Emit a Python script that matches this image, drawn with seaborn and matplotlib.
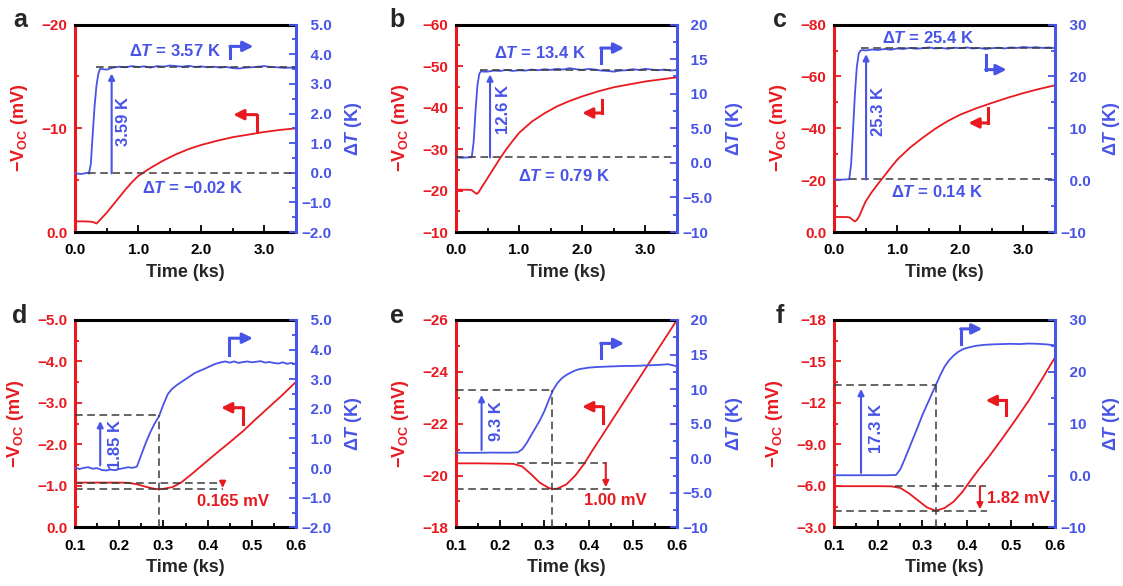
import matplotlib
matplotlib.use("Agg")
import matplotlib.pyplot as plt
from matplotlib.ticker import MultipleLocator, FuncFormatter
import seaborn as sns

RED = "#e8191f"
BLUE = "#4754e6"
DASH = "#3a3a3a"

# ---- panel a ----
a_t_v = [0.0, 0.1, 0.2, 0.28, 0.34, 0.4, 0.5, 0.6, 0.7, 0.8, 0.9, 1.0, 1.2, 1.4,
         1.6, 1.8, 2.0, 2.25, 2.5, 2.75, 3.0, 3.25, 3.5]
a_v = [-1.03, -1.03, -1.02, -0.98, -0.82, -1.2, -1.85, -2.6, -3.35, -4.1, -4.8, -5.4,
       -6.2, -6.9, -7.5, -8.0, -8.4, -8.8, -9.15, -9.4, -9.65, -9.85, -10.0]
a_t_dt = [0.0, 0.1, 0.2, 0.22, 0.25, 0.28, 0.31, 0.34, 0.37, 0.40, 0.43,
          0.5, 0.6, 0.7, 0.8, 0.9, 1.0, 1.1, 1.2, 1.3, 1.4, 1.5, 1.6, 1.7, 1.8, 1.9,
          2.0, 2.1, 2.2, 2.3, 2.4, 2.5, 2.6, 2.7, 2.8, 2.9, 3.0, 3.1, 3.2, 3.3, 3.4, 3.5]
a_dt = [-0.02, -0.04, 0.0, -0.03, 0.3, 1.3, 2.25, 2.95, 3.35, 3.52, 3.5,
        3.48, 3.55, 3.58, 3.56, 3.6, 3.57, 3.59, 3.55, 3.6, 3.58, 3.62, 3.6, 3.58, 3.61, 3.57,
        3.59, 3.56, 3.58, 3.55, 3.57, 3.53, 3.52, 3.55, 3.56, 3.58, 3.6, 3.57, 3.56, 3.54, 3.55, 3.53]

# ---- panel b ----
b_t_v = [0.0, 0.1, 0.2, 0.25, 0.3, 0.33, 0.36, 0.4, 0.5, 0.6, 0.7, 0.8, 0.9, 1.0,
         1.2, 1.4, 1.6, 1.8, 2.0, 2.25, 2.5, 2.75, 3.0, 3.25, 3.5]
b_v = [-20.2, -20.2, -20.2, -20.1, -19.5, -19.2, -19.6, -20.6, -23.0, -25.4, -27.8, -30.0,
       -32.0, -33.9, -36.6, -38.6, -40.3, -41.6, -42.7, -43.9, -44.9, -45.6, -46.3, -46.8, -47.3]
b_t_dt = [0.0, 0.1, 0.2, 0.25, 0.28, 0.31, 0.34, 0.37, 0.40, 0.43,
          0.5, 0.6, 0.7, 0.8, 0.9, 1.0, 1.1, 1.2, 1.3, 1.4, 1.5, 1.6, 1.7, 1.8, 1.9,
          2.0, 2.1, 2.2, 2.3, 2.4, 2.5, 2.6, 2.7, 2.8, 2.9, 3.0, 3.1, 3.2, 3.3, 3.4, 3.5]
b_dt = [0.79, 0.75, 0.8, 0.82, 3.0, 7.5, 11.2, 12.9, 13.3, 13.2,
        13.2, 13.35, 13.3, 13.45, 13.3, 13.4, 13.35, 13.5, 13.4, 13.55, 13.45, 13.6, 13.5, 13.7,
        13.55, 13.45, 13.6, 13.5, 13.35, 13.3, 13.2, 13.35, 13.4, 13.55, 13.45, 13.6, 13.5,
        13.4, 13.5, 13.35, 13.45]

# ---- panel c ----
c_t_v = [0.0, 0.1, 0.2, 0.25, 0.3, 0.33, 0.36, 0.4, 0.5, 0.6, 0.7, 0.8, 0.9, 1.0,
         1.2, 1.4, 1.6, 1.8, 2.0, 2.25, 2.5, 2.75, 3.0, 3.25, 3.5]
c_v = [-5.8, -5.8, -5.8, -5.6, -4.6, -4.1, -4.6, -6.2, -11.8, -15.5, -18.7, -21.8, -24.9,
       -27.9, -32.5, -36.3, -39.8, -42.8, -45.3, -47.7, -49.8, -51.8, -53.6, -55.2, -56.6]
c_t_dt = [0.0, 0.1, 0.2, 0.24, 0.27, 0.30, 0.33, 0.36, 0.39, 0.42, 0.46,
          0.5, 0.6, 0.7, 0.8, 0.9, 1.0, 1.1, 1.2, 1.3, 1.4, 1.5, 1.6, 1.7, 1.8, 1.9,
          2.0, 2.1, 2.2, 2.3, 2.4, 2.5, 2.6, 2.7, 2.8, 2.9, 3.0, 3.1, 3.2, 3.3, 3.4, 3.5]
c_dt = [0.14, 0.1, 0.16, 0.2, 3.0, 9.5, 16.5, 21.8, 24.4, 25.0, 25.1,
        25.0, 25.2, 25.1, 25.3, 25.15, 25.4, 25.3, 25.5, 25.35, 25.45, 25.6, 25.4, 25.5,
        25.35, 25.55, 25.45, 25.6, 25.4, 25.5, 25.3, 25.45, 25.55, 25.4, 25.6, 25.5, 25.7,
        25.55, 25.65, 25.5, 25.6, 25.45]

# ---- panel d ----
d_t_v = [0.10, 0.15, 0.20, 0.22, 0.24, 0.26, 0.28, 0.29, 0.30, 0.32, 0.34, 0.36, 0.38,
         0.40, 0.42, 0.45, 0.48, 0.51, 0.54, 0.57, 0.60]
d_v = [-1.08, -1.08, -1.08, -1.075, -1.04, -0.98, -0.93, -0.92, -0.93, -0.97, -1.08, -1.25,
       -1.43, -1.61, -1.79, -2.05, -2.32, -2.62, -2.91, -3.2, -3.51]
d_t_dt = [0.10, 0.11, 0.12, 0.13, 0.14, 0.15, 0.16, 0.17, 0.18, 0.19, 0.20, 0.21, 0.22,
          0.23, 0.24, 0.25, 0.26, 0.27, 0.28, 0.29, 0.30, 0.31, 0.32, 0.33, 0.34, 0.35,
          0.36, 0.37, 0.38, 0.39, 0.40, 0.41, 0.42, 0.43, 0.44, 0.45, 0.46, 0.47, 0.48,
          0.49, 0.50, 0.51, 0.52, 0.53, 0.54, 0.55, 0.56, 0.57, 0.58, 0.59, 0.60]
d_dt = [0.02, -0.03, 0.01, 0.03, -0.02, 0.0, -0.06, -0.08, -0.05, -0.07, -0.03, 0.0, 0.03,
        0.01, 0.05, 0.45, 0.85, 1.2, 1.5, 1.75, 2.15, 2.5, 2.68, 2.8, 2.9, 3.0, 3.1, 3.2,
        3.27, 3.33, 3.4, 3.47, 3.53, 3.57, 3.6, 3.56, 3.6, 3.55, 3.58, 3.6, 3.57, 3.59,
        3.61, 3.56, 3.58, 3.55, 3.53, 3.57, 3.52, 3.55, 3.5]

# ---- panel e ----
e_t_v = [0.10, 0.15, 0.20, 0.23, 0.25, 0.27, 0.29, 0.31, 0.32, 0.33, 0.35, 0.37, 0.39,
         0.41, 0.43, 0.45, 0.48, 0.51, 0.54, 0.57, 0.60]
e_v = [-20.47, -20.47, -20.46, -20.45, -20.35, -20.05, -19.72, -19.52, -19.48, -19.5,
       -19.66, -20.0, -20.45, -21.0, -21.52, -22.05, -22.84, -23.63, -24.42, -25.21, -26.0]
e_t_dt = [0.10, 0.14, 0.18, 0.22, 0.24, 0.25, 0.26, 0.27, 0.28, 0.29, 0.30, 0.31, 0.32,
          0.33, 0.34, 0.35, 0.36, 0.37, 0.38, 0.39, 0.40, 0.42, 0.44, 0.46, 0.48, 0.50,
          0.52, 0.54, 0.56, 0.58, 0.60]
e_dt = [0.8, 0.78, 0.82, 0.8, 0.85, 1.3, 2.2, 3.3, 4.4, 5.5, 6.8, 8.4, 9.9, 10.9, 11.6,
        12.05, 12.4, 12.7, 12.9, 13.0, 13.1, 13.2, 13.25, 13.3, 13.35, 13.35, 13.4, 13.45,
        13.5, 13.6, 13.3]

# ---- panel f ----
f_t_v = [0.10, 0.15, 0.20, 0.23, 0.25, 0.27, 0.29, 0.31, 0.33, 0.35, 0.37, 0.39, 0.41,
         0.43, 0.45, 0.48, 0.51, 0.54, 0.57, 0.60]
f_v = [-5.98, -5.98, -5.98, -5.97, -5.85, -5.45, -4.95, -4.45, -4.2, -4.4, -4.85, -5.55,
       -6.45, -7.3, -8.1, -9.4, -10.75, -12.15, -13.7, -15.3]
f_t_dt = [0.10, 0.14, 0.18, 0.22, 0.24, 0.25, 0.26, 0.27, 0.28, 0.29, 0.30, 0.31, 0.32,
          0.33, 0.34, 0.35, 0.36, 0.37, 0.38, 0.39, 0.40, 0.42, 0.44, 0.46, 0.48, 0.50,
          0.52, 0.54, 0.56, 0.58, 0.60]
f_dt = [0.06, 0.05, 0.07, 0.06, 0.1, 1.2, 3.2, 5.3, 7.4, 9.5, 11.7, 13.6, 15.5, 17.4, 19.3,
        21.0, 22.2, 23.1, 23.8, 24.3, 24.6, 25.0, 25.2, 25.3, 25.35, 25.4, 25.35, 25.45,
        25.4, 25.3, 25.1]

panel_letters = ["a", "b", "c", "d", "e", "f"]

sns.set_style("ticks")
plt.rcParams["font.family"] = ["Liberation Sans", "DejaVu Sans"]
plt.rcParams["font.weight"] = "bold"
plt.rcParams["axes.labelweight"] = "bold"
plt.rcParams["mathtext.fontset"] = "custom"
plt.rcParams["mathtext.rm"] = "Liberation Sans:bold"
plt.rcParams["mathtext.it"] = "Liberation Sans:italic:bold"
plt.rcParams["mathtext.bf"] = "Liberation Sans:bold"


def fmt(v, pos=None):
    if abs(v) < 1e-9:
        return "0.0"
    s = f"{abs(v):.0f}" if abs(v) >= 9.999 else f"{abs(v):.1f}"
    return ("\u2212" if v < 0 else "") + s


def fmt_right(v, pos=None):
    # digits line up on the left, the minus sign hangs out
    s = fmt(v)
    return s if s.startswith("\u2212") else "\u2007" + s


top = dict(xlim=(0, 3.5), xmaj=1.0, xmin=0.5)
bot = dict(xlim=(0.1, 0.6), xmaj=0.1, xmin=0.05)

panels = [
    dict(top, tv=a_t_v, v=a_v, tdt=a_t_dt, dt=a_dt, ylim=(0, -20), ymaj=10, ymin=5,
         y2lim=(-2, 5), y2maj=1, y2min=0.5,
         texts=[("Δ$T$ = 3.57 K", .452, .871, BLUE, 0), ("Δ$T$ = \u22120.02 K", .532, .212, BLUE, 0),
                ("3.59 K", .219, .534, BLUE, 90)],
         bent_b=(0.701, 0.839, 0.895, 0.807), bent_r=(0.822, 0.486, 0.566, 0.716),
         dt_h=[(3.57, 0.34, 3.5), (-0.02, 0.21, 3.5)], v_h=[], vline=None,
         arr_b=(0.58, -0.02, 3.35), arr_r=None),
    dict(top, tv=b_t_v, v=b_v, tdt=b_t_dt, dt=b_dt, ylim=(-10, -60), ymaj=10, ymin=5,
         y2lim=(-10, 20), y2maj=5, y2min=2.5,
         texts=[("Δ$T$ = 13.4 K", .379, .863, BLUE, 0), ("Δ$T$ = 0.79 K", .488, .268, BLUE, 0),
                ("12.6 K", .215, .590, BLUE, 90)],
         bent_b=(0.655, 0.815, 0.887, 0.761), bent_r=(0.662, 0.638, 0.574, 0.571),
         dt_h=[(13.4, 0.38, 3.5), (0.79, 0.0, 3.5)], v_h=[], vline=None,
         arr_b=(0.54, 0.79, 12.8), arr_r=None),
    dict(top, tv=c_t_v, v=c_v, tdt=c_t_dt, dt=c_dt, ylim=(0, -80), ymaj=20, ymin=10,
         y2lim=(-10, 30), y2maj=10, y2min=5,
         texts=[("Δ$T$ = 25.4 K", .427, .936, BLUE, 0), ("Δ$T$ = 0.14 K", .465, .191, BLUE, 0),
                ("25.3 K", .201, .582, BLUE, 90)],
         bent_b=(0.686, 0.855, 0.783, 0.781), bent_r=(0.698, 0.598, 0.526, 0.608),
         dt_h=[(25.4, 0.42, 3.5), (0.14, 0.24, 3.5)], v_h=[], vline=None,
         arr_b=(0.507, 0.14, 24.3), arr_r=None),
    dict(bot, tv=d_t_v, v=d_v, tdt=d_t_dt, dt=d_dt, ylim=(0, -5), ymaj=1, ymin=0.5,
         y2lim=(-2, 5), y2maj=1, y2min=0.5,
         texts=[("1.85 K", .182, .402, BLUE, 90), ("0.165 mV", .714, .123, RED, 0)],
         bent_b=(0.699, 0.833, 0.912, 0.805), bent_r=(0.760, 0.498, 0.577, 0.661),
         dt_h=[(1.8, 0.1, 0.29)], v_h=[(-1.08, 0.1, 0.435), (-0.92, 0.1, 0.435)],
         vline=(0.29, 1.8), arr_b=(0.157, 0.09, 1.59), arr_r=(0.434, -1.08, -0.95)),
    dict(bot, tv=e_t_v, v=e_v, tdt=e_t_dt, dt=e_dt, ylim=(-18, -26), ymaj=2, ymin=1,
         y2lim=(-10, 20), y2maj=5, y2min=2.5,
         texts=[("9.3 K", .185, .510, BLUE, 90), ("1.00 mV", .723, .129, RED, 0)],
         bent_b=(0.655, 0.815, 0.887, 0.761), bent_r=(0.665, 0.502, 0.582, 0.571),
         dt_h=[(9.8, 0.1, 0.317)], v_h=[(-20.47, 0.238, 0.442), (-19.47, 0.1, 0.45)],
         vline=(0.317, 9.8), arr_b=(0.158, 1.19, 9.15), arr_r=(0.439, -20.47, -19.55)),
    dict(bot, tv=f_t_v, v=f_v, tdt=f_t_dt, dt=f_dt, ylim=(-3, -18), ymaj=3, ymin=1.5,
         y2lim=(-10, 30), y2maj=10, y2min=5,
         texts=[("17.3 K", .194, .476, BLUE, 90), ("1.82 mV", .833, .139, RED, 0)],
         bent_b=(0.573, 0.885, 0.957, 0.671), bent_r=(0.777, 0.540, 0.612, 0.686),
         dt_h=[(17.4, 0.1, 0.33)], v_h=[(-5.98, 0.239, 0.443), (-4.2, 0.1, 0.447)],
         vline=(0.33, 17.4), arr_b=(0.161, 0.51, 16.7), arr_r=(0.430, -5.98, -4.3)),
]

lefts = [0.0668, 0.406, 0.7427]
bottoms = [0.604, 0.100]
W, H = 0.1968, 0.354
letter_pos = [(0.0116, 0.954), (0.347, 0.954), (0.688, 0.954),
              (0.0107, 0.449), (0.347, 0.449), (0.691, 0.449)]


def bent_arrow(ax, x0, y0, y1, x1, color):
    ax.plot([x0, x0], [y0, y1], transform=ax.transAxes, color=color, lw=2.2,
            solid_capstyle="projecting")
    ax.annotate("", xy=(x1, y1), xytext=(x0, y1), xycoords="axes fraction",
                arrowprops=dict(arrowstyle="-|>", color=color, lw=2.2, mutation_scale=15,
                                shrinkA=0, shrinkB=0))


def straight_arrow(ax, x, y0, y1, color):
    ax.annotate("", xy=(x, y1), xytext=(x, y0), xycoords="data",
                arrowprops=dict(arrowstyle="-|>", color=color, lw=1.5, mutation_scale=9,
                                shrinkA=0, shrinkB=0))


fig = plt.figure(figsize=(11.23, 5.86), dpi=100)

for i, p in enumerate(panels):
    ax = fig.add_axes([lefts[i % 3], bottoms[i // 3], W, H])
    ax2 = ax.twinx()

    sns.lineplot(x=p["tv"], y=p["v"], ax=ax, color=RED, lw=1.3, estimator=None, sort=False)
    sns.lineplot(x=p["tdt"], y=p["dt"], ax=ax2, color=BLUE, lw=1.3, estimator=None, sort=False)

    ax.set_xlim(*p["xlim"])
    ax.set_ylim(*p["ylim"])
    ax2.set_ylim(*p["y2lim"])

    ax.xaxis.set_major_locator(MultipleLocator(p["xmaj"]))
    ax.xaxis.set_minor_locator(MultipleLocator(p["xmin"]))
    ax.yaxis.set_major_locator(MultipleLocator(p["ymaj"]))
    ax.yaxis.set_minor_locator(MultipleLocator(p["ymin"]))
    ax2.yaxis.set_major_locator(MultipleLocator(p["y2maj"]))
    ax2.yaxis.set_minor_locator(MultipleLocator(p["y2min"]))
    ax.xaxis.set_major_formatter(FuncFormatter(fmt))
    ax.yaxis.set_major_formatter(FuncFormatter(fmt))
    ax2.yaxis.set_major_formatter(FuncFormatter(fmt_right))

    for s in ("top", "bottom"):
        ax.spines[s].set_color("black")
        ax.spines[s].set_linewidth(2.2)
    ax.spines["left"].set_color(RED)
    ax.spines["left"].set_linewidth(2.2)
    ax.spines["right"].set_visible(False)
    for s in ("left", "top", "bottom"):
        ax2.spines[s].set_visible(False)
    ax2.spines["right"].set_color(BLUE)
    ax2.spines["right"].set_linewidth(2.2)

    ax.tick_params(axis="x", which="both", direction="in", colors="black", width=1.3,
                   labelsize=11, pad=8, top=False)
    ax.tick_params(axis="y", which="both", direction="in", colors=RED, width=1.3,
                   labelsize=11, pad=5.5)
    ax2.tick_params(axis="y", which="both", direction="in", colors=BLUE, width=1.3,
                    labelsize=11, pad=4)
    for a in (ax, ax2):
        a.tick_params(which="major", length=5)
        a.tick_params(which="minor", length=3)

    ax.set_xlabel("Time (ks)", fontsize=13, labelpad=5)
    ax.set_ylabel("\u2212V$_{\\mathrm{OC}}$ (mV)", color=RED, fontsize=13, labelpad=8)
    ax2.set_ylabel("Δ$T$ (K)", color=BLUE, fontsize=13, labelpad=8)

    # reference lines
    for y, x0, x1 in p["dt_h"]:
        ax2.plot([x0, x1], [y, y], ls=(0, (5, 3)), color=DASH, lw=1.1)
    for y, x0, x1 in p["v_h"]:
        ax.plot([x0, x1], [y, y], ls=(0, (5, 3)), color=DASH, lw=1.1)
    if p["vline"] is not None:
        xv, yv = p["vline"]
        ax2.plot([xv, xv], [p["y2lim"][0], yv], ls=(0, (5, 3)), color=DASH, lw=1.1)

    straight_arrow(ax2, *p["arr_b"], BLUE)
    if p["arr_r"] is not None:
        straight_arrow(ax, *p["arr_r"], RED)

    bent_arrow(ax2, *p["bent_b"], BLUE)
    bent_arrow(ax2, *p["bent_r"], RED)

    for s, x, y, col, rot in p["texts"]:
        ax2.text(x, y, s, transform=ax2.transAxes, ha="center", va="center",
                 color=col, fontsize=12, rotation=rot)

    lx, ly = letter_pos[i]
    fig.text(lx, ly, panel_letters[i], fontsize=18, fontweight="bold", va="baseline")

fig.savefig("out.png", dpi=100)
